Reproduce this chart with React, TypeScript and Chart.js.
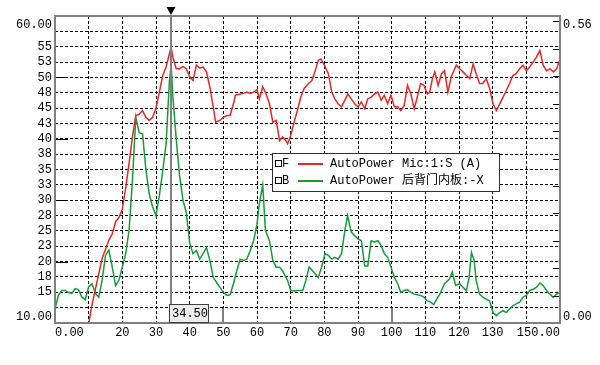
import React, { useEffect, useRef } from "react";
import { Chart, registerables } from "chart.js";
Chart.register(...registerables);

const MONO = "'Liberation Mono', 'Noto Sans CJK SC', monospace";

// ---- data ----
const redX = [9.6, 10.5, 11, 12, 13, 14, 15, 16, 17, 18, 19, 20, 21, 22, 23, 24, 25, 26, 27, 28, 29, 30, 31, 32, 33, 34, 34.5, 35, 36, 37, 38, 39, 40, 41, 42, 43, 44, 45, 46, 47, 47.7, 49, 50, 51, 52, 53, 53.6, 55, 56, 57, 58, 59, 60, 60.7, 61.7, 62.7, 63.7, 64.7, 65.7, 66.7, 67.6, 68.6, 69.1, 70, 71, 72, 73, 74, 75.3, 76.3, 77.3, 78.2, 79, 80, 81.2, 82.2, 83.1, 84.1, 85.1, 86.1, 87, 88, 89, 90, 91, 92, 92.9, 93.9, 94.9, 95.9, 96.9, 97.8, 98.8, 99.8, 100.8, 101.8, 102.7, 103.7, 104.7, 105.7, 106.7, 107.6, 108.6, 109.6, 110.6, 111.3, 112.1, 112.8, 113.8, 114.8, 115.7, 116.7, 117.7, 119.2, 120.2, 121.2, 122.2, 123.2, 124.2, 125.1, 126.1, 127.1, 128.1, 129.1, 130.1, 131.1, 132.1, 133.1, 134.1, 135, 136, 137, 138, 139, 140, 141, 142, 143, 144, 145, 146, 147, 148, 149, 150];
const redY = [8.5, 11.5, 13, 15.5, 18, 20.5, 22, 23.5, 24.5, 26.5, 27.2, 28.5, 32, 36, 40.3, 43.8, 44, 44.6, 43.5, 43, 43.5, 45, 47.6, 50.3, 51.7, 53.9, 54.9, 53.3, 51.4, 51.4, 51.8, 51.4, 50.1, 49.5, 52.0, 51.5, 51.7, 50.9, 48.4, 45.2, 42.7, 43.0, 43.5, 43.8, 43.8, 45.7, 47.1, 47.3, 47.4, 47.6, 47.4, 47.6, 48.0, 46.5, 48.5, 47.3, 45.7, 42.7, 43.0, 39.7, 40.3, 39.7, 39.2, 40.5, 42.7, 44.6, 46.8, 48.2, 49.0, 49.5, 51.1, 52.8, 53.0, 52.0, 50.6, 47.6, 46.5, 45.7, 45.2, 46.3, 47.3, 46.5, 45.7, 45.2, 46.0, 44.9, 46.5, 46.8, 47.3, 47.6, 46.3, 47.1, 45.7, 47.1, 45.2, 45.2, 44.6, 45.4, 48.7, 47.3, 44.9, 46.8, 49.0, 48.7, 47.3, 47.6, 49.8, 50.9, 48.7, 50.6, 51.1, 47.6, 50.1, 52.0, 51.4, 50.9, 50.3, 49.8, 52.2, 50.6, 49.0, 49.0, 49.8, 48.2, 45.7, 44.6, 45.7, 46.8, 47.9, 49.0, 50.3, 50.6, 51.4, 52.0, 51.1, 51.7, 52.5, 53.3, 54.4, 52.0, 51.1, 51.4, 50.9, 51.4, 53.0];

const greenX = [0, 1, 2, 3, 4, 5, 6, 7, 8, 9, 10, 11, 12, 13, 14, 15, 16, 17, 18, 19, 20, 21, 22, 23, 24, 25, 26, 27, 28, 29, 30, 31, 32, 33, 34, 34.5, 35, 36, 37, 38, 39, 40, 41, 42, 43, 44, 45, 46, 47, 48, 49, 50, 51, 52, 53, 54, 55, 56, 57, 58, 59, 60, 60.7, 61.7, 62.5, 63.7, 64.7, 65.7, 66.7, 67.6, 69.1, 70, 71, 72, 73.6, 74.5, 75.5, 76.8, 78.2, 79.2, 80.2, 81.2, 82.2, 83.1, 84.1, 85.1, 86.1, 86.9, 88, 89, 90, 91, 92, 92.9, 93.9, 94.9, 95.9, 96.9, 97.8, 98.8, 99.8, 100.8, 101.8, 102.7, 103.7, 104.7, 105.7, 106.7, 107.6, 108.6, 109.6, 110.6, 111.6, 112.5, 113.5, 114.3, 115.7, 117.2, 118, 119, 120.2, 121.2, 122.2, 123, 123.7, 124.5, 125.1, 126.1, 127.1, 128.1, 129.1, 130.1, 131.1, 132.1, 133.1, 134.1, 135, 136, 137, 138, 139, 140, 141, 142, 143, 144, 145, 146, 147, 148, 149, 150];
const greenY = [12.3, 14.5, 15.3, 15.3, 15.0, 14.8, 15.6, 15.4, 14.2, 13.8, 15.9, 16.4, 14.8, 14.2, 17.0, 21.0, 21.9, 19.1, 16.1, 17.0, 19.1, 21.3, 25.1, 33.2, 43.5, 41, 40.8, 35, 31, 28.9, 27.5, 30.8, 34.8, 39.2, 49.5, 52, 47, 40, 34, 30, 28, 23, 21.3, 21.8, 20.4, 21.3, 22.3, 20.2, 17.4, 16.6, 15.8, 15.0, 14.5, 14.6, 16.4, 18.5, 20.4, 20.2, 20.4, 21.8, 23.4, 26.1, 29.4, 32.5, 25.1, 23.4, 20.2, 19.1, 19.1, 18.5, 16.9, 15.3, 15.2, 15.3, 15.3, 16.9, 19.1, 18.3, 17.4, 19.1, 21.3, 21.0, 20.4, 20.7, 20.4, 21.3, 25.1, 27.5, 24.8, 24.2, 23.7, 23.4, 19.3, 19.3, 23.4, 23.2, 23.4, 22.6, 21.3, 20.7, 19.1, 17.4, 16.4, 15.0, 15.3, 15.4, 15.0, 14.7, 14.6, 14.5, 14.2, 13.6, 13.4, 13.0, 14.0, 14.7, 16.4, 17.2, 18.3, 16.1, 16.4, 15.8, 15.3, 17.4, 21.5, 20.2, 16.9, 14.7, 14.2, 13.9, 13.6, 11.7, 11.2, 11.7, 12.0, 11.7, 12.3, 12.8, 13.1, 13.4, 14.2, 14.5, 15.3, 15.5, 15.8, 16.5, 16.1, 15.3, 14.7, 14.2, 14.7, 15.0];

const seriesKeys = ["F", "B"];
const seriesNames = ["AutoPower Mic:1:S (A)", "AutoPower 后背门内板:-X"];
const seriesColors = ["#e02a2a", "#169a3a"];

const xTickValues = [0, 10, 20, 30, 40, 50, 60, 70, 80, 90, 100, 110, 120, 130, 140, 150];
const xTickLabels = ["    0.00", "", "20", "30", "40", "50", "60", "70", "80", "90", "100", "110", "120", "130", "", "150.00      "];
const xMajorTicks = [50, 100];

const yTickValues = [10, 12.5, 15, 17.5, 20, 22.5, 25, 27.5, 30, 32.5, 35, 37.5, 40, 42.5, 45, 47.5, 50, 52.5, 55, 57.5, 60];
const yTickLabels = ["10.00", "", "15", "18", "20", "23", "25", "28", "30", "33", "35", "38", "40", "43", "45", "48", "50", "53", "55", "", "60.00"];
const yMajorTicks = [20, 30, 40, 50];

const rightTickValues = [0, 0.05, 0.1, 0.15, 0.2, 0.25, 0.3, 0.35, 0.4, 0.45, 0.5, 0.55, 0.56];
const rightTickLabels = ["0.00", "", "", "", "", "", "", "", "", "", "", "", "0.56"];

const cursorX = 34.5;
const cursorLabel = "34.50";

function edgeLabel(labels: string[], index: number) {
  const l = labels[index];
  if (index === 0) return [l, ""];
  if (index === labels.length - 1) return ["", l];
  return l;
}

export default function App() {
  const ref = useRef<HTMLCanvasElement>(null);
  useEffect(() => {
    const canvas = ref.current!;
    const line = (ctx: CanvasRenderingContext2D, x1: number, y1: number, x2: number, y2: number) => {
      ctx.beginPath();
      ctx.moveTo(x1, y1);
      ctx.lineTo(x2, y2);
      ctx.stroke();
    };
    const overlay = {
      id: "overlay",
      afterDatasetsDraw(chart: any) {
        const { ctx, chartArea: a, scales } = chart;
        const xs = scales.x, ys = scales.y, y2 = scales.y2;
        ctx.save();
        // inner ticks
        ctx.strokeStyle = "#000";
        ctx.lineWidth = 1;
        yMajorTicks.forEach((v) => {
          const py = Math.round(ys.getPixelForValue(v)) + 0.5;
          line(ctx, a.left, py, a.left + 13, py);
        });
        rightTickValues.slice(1, -1).forEach((v) => {
          const py = Math.round(y2.getPixelForValue(v)) + 0.5;
          line(ctx, a.right - 7, py, a.right, py);
        });
        ctx.strokeStyle = "#808080";
        ctx.lineWidth = 2;
        xMajorTicks.forEach((v) => {
          const px = Math.round(xs.getPixelForValue(v));
          line(ctx, px, a.bottom, px, a.bottom - 15);
        });
        // frame
        ctx.strokeRect(a.left, a.top, a.right - a.left, a.bottom - a.top);
        // cursor
        const cx = Math.round(xs.getPixelForValue(cursorX));
        line(ctx, cx, a.top - 1, cx, a.bottom);
        ctx.fillStyle = "#000";
        ctx.beginPath();
        ctx.moveTo(cx - 4.5, a.top - 9);
        ctx.lineTo(cx + 4.5, a.top - 9);
        ctx.lineTo(cx, a.top - 1);
        ctx.closePath();
        ctx.fill();
        // cursor label
        ctx.fillStyle = "#ececec";
        ctx.fillRect(cx - 2, a.bottom - 19, 40, 19);
        ctx.strokeStyle = "#404040";
        ctx.lineWidth = 1;
        ctx.strokeRect(cx - 1.5, a.bottom - 18.5, 39, 18);
        ctx.fillStyle = "#000";
        ctx.font = `12px ${MONO}`;
        ctx.textAlign = "left";
        ctx.textBaseline = "middle";
        ctx.fillText(cursorLabel, cx + 1, a.bottom - 9);
        // legend
        const lx = 272, ly = 153, lw = 228, lh = 39;
        ctx.fillStyle = "#fff";
        ctx.fillRect(lx, ly, lw, lh);
        ctx.strokeStyle = "#303030";
        ctx.lineWidth = 1;
        ctx.strokeRect(lx + 0.5, ly + 0.5, lw - 1, lh - 1);
        seriesNames.forEach((name, i) => {
          const ry = ly + 11 + i * 17;
          ctx.strokeStyle = "#000";
          ctx.lineWidth = 1;
          ctx.strokeRect(275.5, ry - 3.5, 6, 6);
          ctx.fillStyle = "#000";
          ctx.fillText(seriesKeys[i], 282, ry);
          ctx.strokeStyle = seriesColors[i];
          ctx.lineWidth = 2;
          line(ctx, 298, ry, 323, ry);
          ctx.fillStyle = "#000";
          ctx.fillText(name, 330, ry);
        });
        ctx.restore();
      },
    };

    const chart = new Chart(canvas, {
      type: "line",
      data: {
        datasets: [
          {
            label: seriesNames[0],
            data: redX.map((x, i) => ({ x, y: redY[i] })),
            borderColor: seriesColors[0],
            borderWidth: 1.5,
            pointRadius: 0,
            tension: 0,
            yAxisID: "y",
          },
          {
            label: seriesNames[1],
            data: greenX.map((x, i) => ({ x, y: greenY[i] })),
            borderColor: seriesColors[1],
            borderWidth: 1.5,
            pointRadius: 0,
            tension: 0,
            yAxisID: "y",
          },
        ],
      },
      options: {
        animation: false,
        responsive: false,
        devicePixelRatio: 1,
        layout: { padding: { top: 16, left: 0, right: 0, bottom: 0 } },
        plugins: { legend: { display: false }, tooltip: { enabled: false }, title: { display: false } },
        scales: {
          x: {
            type: "linear",
            position: "bottom",
            min: 0,
            max: 150,
            afterBuildTicks: (s: any) => {
              s.ticks = xTickValues.map((v) => ({ value: v }));
            },
            afterFit: (s: any) => {
              s.height = 42;
              s.paddingLeft = 0;
              s.paddingRight = 0;
            },
            ticks: {
              autoSkip: false,
              maxRotation: 0,
              minRotation: 0,
              padding: 3,
              color: "#000",
              font: { family: MONO, size: 12 },
              callback: (_v: any, i: number) => xTickLabels[i],
            },
            grid: { color: "#000", lineWidth: 1, drawTicks: false },
            border: { display: false, dash: [3, 2] },
          },
          y: {
            type: "linear",
            position: "left",
            min: 10,
            max: 60,
            afterBuildTicks: (s: any) => {
              s.ticks = yTickValues.map((v) => ({ value: v }));
            },
            afterFit: (s: any) => {
              s.width = 55;
              s.paddingTop = 0;
              s.paddingBottom = 0;
            },
            ticks: {
              autoSkip: false,
              padding: 3,
              color: "#000",
              font: (c: any) => ({
                family: MONO,
                size: 12,
                lineHeight: c.index === yTickValues.length - 1 ? 1.55 : 1.1,
              }),
              callback: (_v: any, i: number) => edgeLabel(yTickLabels, i),
            },
            grid: { color: "#000", lineWidth: 1, drawTicks: false },
            border: { display: false, dash: [3, 2] },
          },
          y2: {
            type: "linear",
            position: "right",
            min: 0,
            max: 0.56,
            afterBuildTicks: (s: any) => {
              s.ticks = rightTickValues.map((v) => ({ value: v }));
            },
            afterFit: (s: any) => {
              s.width = 40;
              s.paddingTop = 0;
              s.paddingBottom = 0;
            },
            ticks: {
              autoSkip: false,
              padding: 3,
              color: "#000",
              font: (c: any) => ({
                family: MONO,
                size: 12,
                lineHeight: c.index === rightTickValues.length - 1 ? 1.55 : 1.1,
              }),
              callback: (_v: any, i: number) => edgeLabel(rightTickLabels, i),
            },
            grid: { drawOnChartArea: false, drawTicks: false },
            border: { display: false },
          },
        },
      },
      plugins: [overlay],
    } as any);
    return () => chart.destroy();
  }, []);

  return (
    <div style={{ position: "fixed", left: 0, top: 0, width: 600, height: 365, background: "#fff" }}>
      <canvas ref={ref} width={600} height={365} style={{ display: "block", width: 600, height: 365 }} />
    </div>
  );
}
